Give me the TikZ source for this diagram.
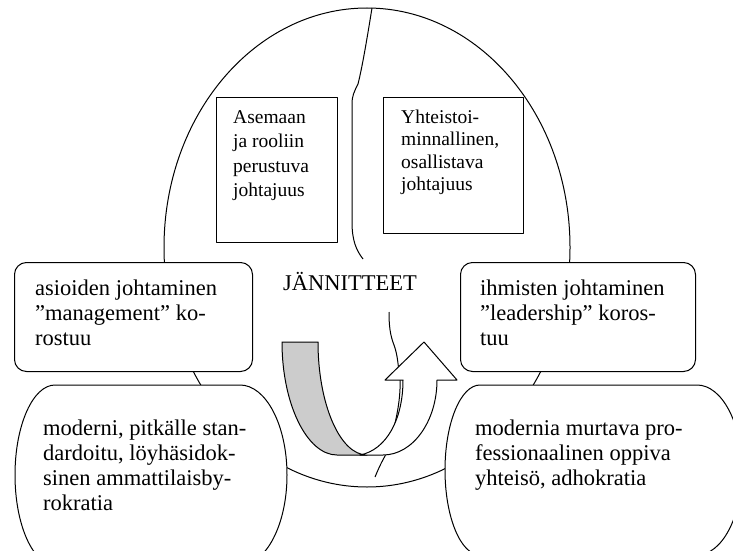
\documentclass[tikz,border=0pt]{standalone}
\usepackage{fontspec}
\setmainfont{Liberation Serif}
\begin{document}
\begin{tikzpicture}[x=1pt,y=-1pt,line join=round]
\tikzset{
  outline/.style={draw=black,line width=1pt},
  squarebox/.style={outline,fill=white,anchor=north west,inner sep=0pt},
  roundbox/.style={squarebox,rounded corners=12pt},
  bodytext/.style={inner sep=0pt,anchor=base west,align=left,
    font=\fontsize{22.5}{25}\selectfont},
  smalltext/.style={inner sep=0pt,anchor=base west,align=left,
    font=\fontsize{19.5}{24.5}\selectfont},
}
\useasboundingbox (0,0) rectangle (733,551);

% outer oval
\draw[outline] (367,247.5) ellipse [x radius=203,y radius=239.5];

% dividing line, upper part
\draw[outline] (372,8) .. controls (366,45) and (362,68) .. (358,84)
  .. controls (354,92) and (352,96) .. (352,104) -- (352,222)
  .. controls (352,240) and (356,250) .. (363,259);
% dividing line, lower part
\draw[outline] (389,312) .. controls (389,325) and (390,335) .. (394,345)
  .. controls (398,356) and (398,366) .. (400,380)
  .. controls (401,400) and (395,430) .. (385,456)
  .. controls (380,465) and (378,470) .. (375,477);

% curved arrow: back face
\draw[outline,fill=black!20] (282,342) -- (318,342)
  .. controls (318,404) and (340,455) .. (367,455)
  -- (337,455) .. controls (307,455) and (282,404) .. (282,342) -- cycle;
% curved arrow: front face with head
\draw[outline,fill=white] (360,455) -- (383,455)
  .. controls (413,455) and (437,421) .. (437,380)
  -- (457,380) -- (424,342) -- (385,380) -- (403,380)
  .. controls (403,420) and (386,450) .. (360,455) -- cycle;

% upper boxes
\node[squarebox,minimum width=121pt,minimum height=145pt] (roleBox) at (216,97) {};
\node[squarebox,minimum width=140pt,minimum height=136pt] (coopBox) at (383,97) {};

% middle rounded boxes
\node[roundbox,minimum width=238pt,minimum height=109pt] (mgmtBox) at (14,262) {};
\node[roundbox,minimum width=235pt,minimum height=109pt] (leadBox) at (460,262) {};

% lower rounded shapes, cut by the page edge
\begin{scope}
  \clip (0,0) rectangle (733,551);
  \draw[outline,fill=white] (55,385) -- (240,385)
    arc[start angle=-90,end angle=90,x radius=47,y radius=90]
    -- (55,565)
    arc[start angle=90,end angle=270,x radius=40,y radius=90] -- cycle;
  \draw[outline,fill=white] (480,385) -- (697,385)
    arc[start angle=-90,end angle=90,x radius=45,y radius=85]
    -- (480,555)
    arc[start angle=90,end angle=270,x radius=35,y radius=85] -- cycle;
\end{scope}

% texts (each placed at the baseline of its last line)
\node[smalltext] (roleText) at (233,196.5) {Asemaan\\ja rooliin\\perustuva\\johtajuus};
\node[smalltext,font=\fontsize{19.5}{22.5}\selectfont] (coopText) at (401,190.5)
  {Yhteistoi-\\minnallinen,\\osallistava\\johtajuus};
\node[bodytext] (tension) at (283,290) {JÄNNITTEET};
\node[bodytext] (mgmtText) at (35,345)
  {asioiden johtaminen\\”management” ko-\\rostuu};
\node[bodytext] (leadText) at (480,345)
  {ihmisten johtaminen\\”leadership” koros-\\tuu};
\node[bodytext] (modernText) at (43,510)
  {moderni, pitkälle stan-\\dardoitu, löyhäsidok-\\sinen ammattilaisby-\\rokratia};
\node[bodytext] (adhocText) at (475,485)
  {modernia murtava pro-\\fessionaalinen oppiva\\yhteisö, adhokratia};
\end{tikzpicture}
\end{document}
